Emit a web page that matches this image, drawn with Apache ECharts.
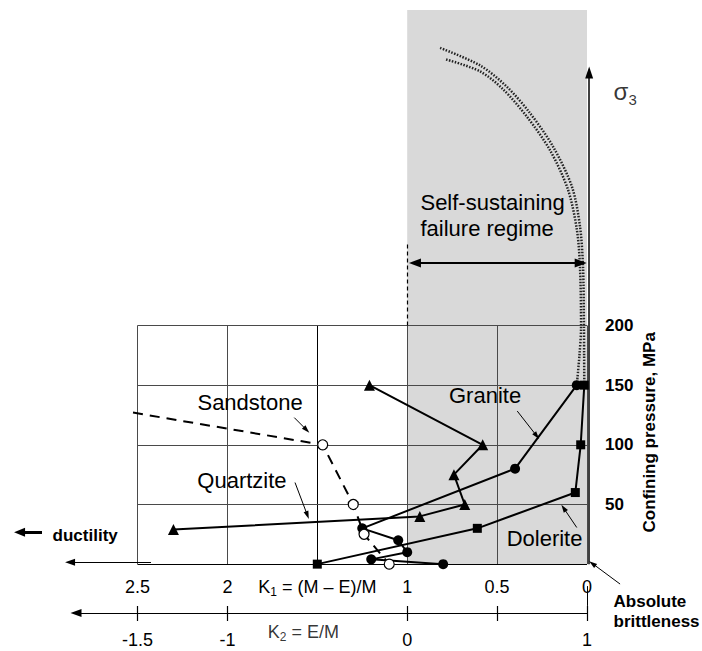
<!DOCTYPE html>
<html>
<head>
<meta charset="utf-8">
<script src="https://cdn.jsdelivr.net/npm/echarts@6/dist/echarts.min.js"></script>
<style>html,body{margin:0;padding:0;background:#fff}#c{width:702px;height:651px}</style>
</head>
<body>
<div id="c"></div>
<script>
// ---------------- data ----------------
const k1Ticks = [0, 0.5, 1, 1.5, 2, 2.5];
const k1TickLabels = ['0', '0.5', '1', '{k|K}{s|1}{k| = (M – E)/M}', '2', '2.5'];
const k2Ticks = [-1.5, -1, 0, 0.5, 1];
const k2LabelValues = [-1.5, -1, 0, 1];
const k2TickLabels = ['-1.5', '-1', '0', '1'];
const pressureTicks = [0, 50, 100, 150, 200];
const pressureLabelValues = [50, 100, 150, 200];
const pressureTickLabels = ['50', '100', '150', '200'];

const sandstoneK1 = [2.525, 1.47, 1.30, 1.24, 1.10];
const sandstoneP  = [127, 100, 50, 25, 0];
const quartziteK1 = [1.21, 0.58, 0.74, 0.68, 0.93, 2.30];
const quartziteP  = [150, 100, 75, 50, 40, 29];
const graniteK1   = [0.057, 0.40, 1.25, 1.05, 1.00, 1.20, 0.80];
const graniteP    = [150, 80, 30, 20, 10, 4, 0];
const doleriteK1  = [0.015, 0.035, 0.065, 0.61, 1.50];
const doleriteP   = [150, 100, 60, 30, 0];

const graniteTrendK1 = [0.057, 0.042, 0.033, 0.039, 0.056, 0.106, 0.206, 0.334, 0.467, 0.595, 0.784];
const graniteTrendP  = [150, 175, 199, 249, 280, 314, 347, 375, 398, 413, 423];
const doleriteTrendK1 = [0.015, 0.016, 0.017, 0.022, 0.039, 0.083, 0.189, 0.317, 0.445, 0.595, 0.823];
const doleriteTrendP  = [150, 175, 199, 249, 283, 316, 350, 378, 400, 418, 433];

const regimeK1 = [1, 0];        // self-sustaining failure regime (K1 range)
const tableK1Range = [0, 2.5];
const tablePRange = [0, 200];

// ---------------- layout (pixel mapping of the figure) ----------------
const W = 702, H = 651;
const PX_K1_ZERO = 587, PX_PER_K1 = 179.8;
const PY_P_ZERO = 565, PY_PER_P = 1.195;
const xMin = (PX_K1_ZERO - W) / PX_PER_K1;
const xMax = PX_K1_ZERO / PX_PER_K1;
const yMin = (PY_P_ZERO - H) / PY_PER_P;
const yMax = PY_P_ZERO / PY_PER_P;
const FONT = '"Liberation Sans", Arial, Helvetica, sans-serif';
const INK = '#000';

const zip = (a, b) => a.map((v, i) => [v, b[i]]);

function seg(a, b, lineStyle, endSym, startSym) {
  return [
    { coord: a, lineStyle: lineStyle, symbol: startSym ? startSym.type : 'none', symbolSize: startSym ? startSym.size : 1 },
    { coord: b, symbol: endSym ? endSym.type : 'none', symbolSize: endSym ? endSym.size : 1 }
  ];
}

// table grid lines
const gridLines = [];
k1Ticks.forEach(k => gridLines.push(seg([k, tablePRange[0]], [k, tablePRange[1]],
  { color: k === 1.5 ? '#000' : '#4a4a4a', width: 1, type: 'solid' })));
pressureTicks.forEach(p => gridLines.push(seg([tableK1Range[0], p], [tableK1Range[1], p],
  { color: p === 0 ? '#000' : '#4a4a4a', width: 1, type: 'solid' })));

const tri = (w, h) => ({ type: 'triangle', size: [w, h] });
const thin = { color: '#000', width: 1, type: 'solid' };

const arrows = [
  // sigma3 axis
  seg([-0.012, 0], [-0.012, 412], { color: '#000', width: 1.5, type: 'solid' }, tri(8, 12)),
  // ductility direction along the K1 axis
  seg([2.425, 1.5], [2.875, 1.5], thin, tri(7, 10)),
  // small bold ductility arrow
  seg([3.031, 26.8], [3.156, 26.8], { color: '#000', width: 3, type: 'solid' }, tri(9, 11)),
  // K2 axis line
  seg([0, -41], [2.842, -41], { color: '#000', width: 1.2, type: 'solid' }, tri(8, 11)),
  // K2 tick at 1 extending through the K1 "0" label
  seg([0, -18.4], [0, -35], thin),
  // self-sustaining regime double arrow
  seg([0.957, 252.4], [0.035, 252.4], { color: '#000', width: 2, type: 'solid' }, tri(9, 12), tri(9, 12)),
  // dashed boundary above the table
  seg([1, 200], [1, 267.8], { color: '#000', width: 1.2, type: [4, 3] }),
  // annotation pointers
  seg([1.628, 122.8], [1.56, 112.5], thin, tri(5, 8)),
  seg([1.624, 68.4], [1.555, 41], thin, tri(5, 8)),
  seg([0.388, 128.3], [0.28, 107.5], thin, tri(5, 8)),
  seg([0.057, 30.7], [0.13, 47], thin, tri(5, 8)),
  seg([-0.184, -16.7], [-0.03, 0.5], thin, tri(5, 8))
];

const bigText = { fontFamily: FONT, fontSize: 22, color: INK, opacity: 1, textBorderWidth: 0 };
const boldText = { fontFamily: FONT, fontSize: 17, fontWeight: 'bold', color: INK, opacity: 1, textBorderWidth: 0 };

const notes = [
  { value: [1.874, 135.8], label: Object.assign({ formatter: 'Sandstone', position: 'inside' }, bigText) },
  { value: [1.919, 69.7], label: Object.assign({ formatter: 'Quartzite', position: 'inside' }, bigText) },
  { value: [0.567, 141.4], label: Object.assign({ formatter: 'Granite', position: 'inside' }, bigText) },
  { value: [0.236, 21.8], label: Object.assign({ formatter: 'Dolerite', position: 'inside' }, bigText) },
  { value: [0.929, 292], label: Object.assign({ formatter: 'Self-sustaining\nfailure regime', position: 'right', distance: 0, lineHeight: 26 }, bigText) },
  { value: [-0.145, 395.8], label: { position: 'right', distance: 0, formatter: '{s|σ}{n|3}', color: INK,
      rich: { s: { fontFamily: FONT, fontSize: 24, lineHeight: 30, color: INK },
              n: { fontFamily: FONT, fontSize: 15, lineHeight: 30, verticalAlign: 'bottom', color: INK } } } },
  { value: [2.975, 24.3], label: Object.assign({ formatter: 'ductility', position: 'right', distance: 0 }, boldText) },
  { value: [-0.145, -39.3], label: Object.assign({ formatter: 'Absolute\nbrittleness', position: 'right', distance: 0, lineHeight: 20 }, boldText) },
  { value: [-0.35, 110.5], label: Object.assign({ formatter: 'Confining pressure, MPa', position: 'inside', rotate: 90 }, boldText) },
  { value: [1.577, -56.9], label: { position: 'inside', formatter: '{k|K}{s|2}{k| = E/M}', color: INK,
      rich: { k: { fontFamily: FONT, fontSize: 18, lineHeight: 22, color: INK },
              s: { fontFamily: FONT, fontSize: 12, lineHeight: 22, verticalAlign: 'bottom', color: INK } } } }
];

const dataLine = (name, k1, p, symbol, size, z) => ({
  name, type: 'line', data: zip(k1, p), symbol, symbolSize: size, z,
  itemStyle: { color: '#000' }, lineStyle: { color: '#000', width: 2 },
  silent: true, animation: false
});

const option = {
  animation: false,
  grid: { left: 0, right: 0, top: 0, bottom: 0, containLabel: false },
  xAxis: [
    { type: 'value', inverse: true, min: xMin, max: xMax, position: 'bottom', offset: PY_P_ZERO - H,
      axisLine: { show: false, onZero: false }, axisTick: { show: false }, splitLine: { show: false },
      axisLabel: { customValues: k1Ticks, margin: 12, fontFamily: FONT, fontSize: 18, lineHeight: 22, color: INK,
        formatter: v => { const i = k1Ticks.indexOf(v); return i < 0 ? '' : k1TickLabels[i]; },
        rich: { k: { fontFamily: FONT, fontSize: 18, lineHeight: 22, color: INK },
                s: { fontFamily: FONT, fontSize: 12, lineHeight: 22, verticalAlign: 'bottom', color: INK } } } },
    { type: 'value', min: 1 - xMax, max: 1 - xMin, position: 'bottom', offset: 607 - H,
      axisLine: { show: false, onZero: false }, splitLine: { show: false },
      axisTick: { show: true, customValues: k2Ticks, length: 15, lineStyle: { color: '#000', width: 1.2 } },
      axisLabel: { customValues: k2LabelValues, margin: 23, fontFamily: FONT, fontSize: 18, lineHeight: 22, color: INK,
        formatter: v => { const i = k2LabelValues.indexOf(v); return i < 0 ? '' : k2TickLabels[i]; } } }
  ],
  yAxis: [
    { type: 'value', min: yMin, max: yMax, position: 'right', offset: 590 - W,
      axisLine: { show: false, onZero: false }, axisTick: { show: false }, splitLine: { show: false },
      axisLabel: { customValues: pressureLabelValues, margin: 15, fontFamily: FONT, fontSize: 17, fontWeight: 'bold', color: INK,
        formatter: v => { const i = pressureLabelValues.indexOf(v); return i < 0 ? '' : pressureTickLabels[i]; } } }
  ],
  series: [
    { name: 'regime', type: 'line', data: [], z: 1, silent: true,
      markArea: { silent: true, itemStyle: { color: '#d9d9d9' }, label: { show: false },
        data: [[{ coord: [regimeK1[0], yMax - 8.4] }, { coord: [regimeK1[1], 0] }]] } },
    { name: 'table', type: 'line', data: [], z: 2, silent: true,
      markLine: { silent: true, symbol: ['none', 'none'], label: { show: false }, animation: false, data: gridLines } },
    { name: 'graniteTrend', type: 'line', data: zip(graniteTrendK1, graniteTrendP), showSymbol: false, smooth: 0.3, z: 4,
      lineStyle: { color: '#222', width: 2.5, type: [1.5, 1.5] }, silent: true },
    { name: 'doleriteTrend', type: 'line', data: zip(doleriteTrendK1, doleriteTrendP), showSymbol: false, smooth: 0.3, z: 4,
      lineStyle: { color: '#222', width: 2.5, type: [1.5, 1.5] }, silent: true },
    dataLine('Quartzite', quartziteK1, quartziteP, 'triangle', 11, 6),
    dataLine('Dolerite', doleriteK1, doleriteP, 'rect', 9, 6),
    dataLine('Granite', graniteK1, graniteP, 'circle', 10, 7),
    { name: 'Sandstone', type: 'line', z: 8, silent: true,
      data: zip(sandstoneK1, sandstoneP).map((d, i) => i === 0 ? { value: d, symbol: 'none' } : d),
      symbol: 'circle', symbolSize: 10,
      itemStyle: { color: '#fff', borderColor: '#000', borderWidth: 1.2 },
      lineStyle: { color: '#000', width: 2, type: [10, 7] } },
    { name: 'arrows', type: 'line', data: [], z: 9, silent: true,
      markLine: { silent: true, symbol: ['none', 'none'], label: { show: false }, animation: false,
        itemStyle: { color: '#000' }, data: arrows } },
    { name: 'notes', type: 'scatter', data: notes, symbol: 'circle', symbolSize: 1, z: 10, silent: true,
      itemStyle: { color: 'rgba(0,0,0,0)' }, label: { show: true, color: INK } }
  ]
};

const chart = echarts.init(document.getElementById('c'), null, { renderer: 'svg', width: W, height: H });
chart.setOption(option);
</script>
</body>
</html>
